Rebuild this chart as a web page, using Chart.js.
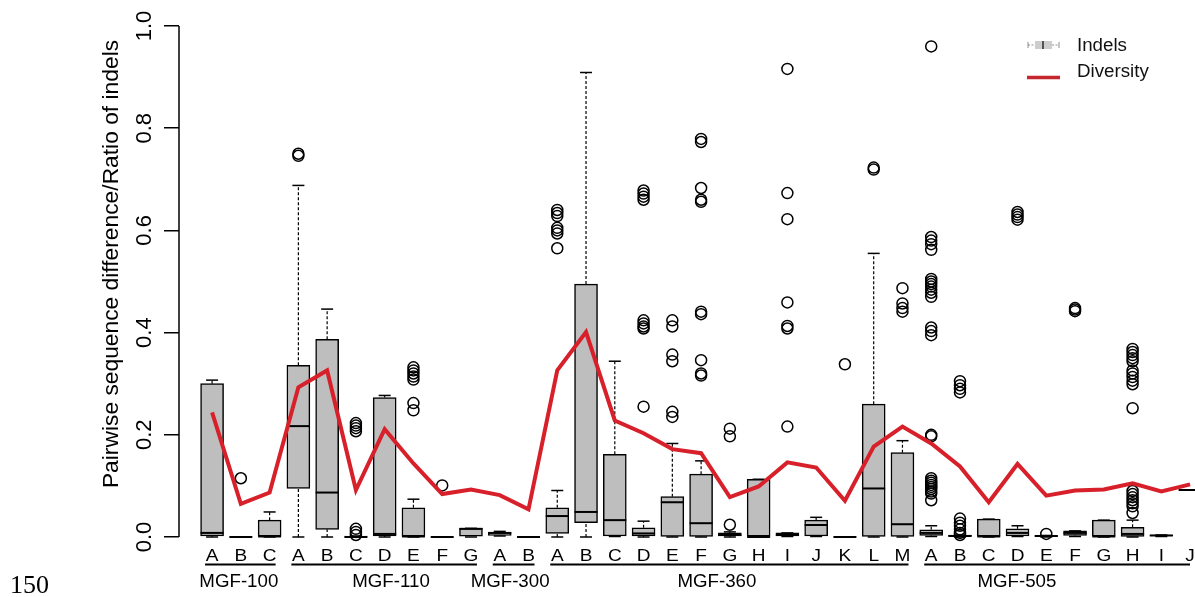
<!DOCTYPE html>
<html>
<head>
<meta charset="utf-8">
<title>Indels and diversity per MGF gene</title>
<script src="https://cdn.jsdelivr.net/npm/chart.js@4"></script>
<style>
  html, body { margin: 0; padding: 0; background: #fff; }
  #wrap { width: 1195px; height: 597px; position: relative; }
</style>
</head>
<body>
<div id="wrap"><canvas id="myChart"></canvas></div>
<script>
// gene families and their members
const groupNames = ["MGF-100", "MGF-110", "MGF-300", "MGF-360", "MGF-505"];
const groupSizes = [3, 7, 2, 13, 10];
const letters = [
  "A", "B", "C",
  "A", "B", "C", "D", "E", "F", "G",
  "A", "B",
  "A", "B", "C", "D", "E", "F", "G", "H", "I", "J", "K", "L", "M",
  "A", "B", "C", "D", "E", "F", "G", "H", "I", "J",
];

// box stats for indels (one entry per gene)
const whiskerLow = [0, 0, 0, 0, 0, 0, 0, 0, 0, 0, 0.002, 0, 0, 0, 0.001, 0, 0, 0, 0, 0, 0.001, 0.001, 0, 0, 0, 0.001, 0, 0, 0.001, 0, 0.001, 0, 0, 0.001, 0.092];
const q1 = [0.002, 0, 0, 0.095, 0.015, 0, 0.002, 0, 0, 0, 0.003, 0, 0.007, 0.028, 0.002, 0.002, 0.001, 0.001, 0.002, 0, 0.002, 0.002, 0, 0.001, 0.001, 0.003, 0.001, 0, 0.002, 0.001, 0.003, 0, 0.001, 0.002, 0.092];
const median = [0.008, 0, 0.001, 0.217, 0.087, 0, 0.006, 0.001, 0, 0.016, 0.008, 0, 0.041, 0.049, 0.033, 0.007, 0.068, 0.027, 0.004, 0, 0.004, 0.0235, 0, 0.095, 0.025, 0.008, 0.002, 0.001, 0.008, 0.002, 0.008, 0.001, 0.006, 0.003, 0.092];
const q3 = [0.300, 0, 0.033, 0.336, 0.387, 0.002, 0.273, 0.057, 0, 0.017, 0.009, 0, 0.057, 0.495, 0.162, 0.018, 0.079, 0.123, 0.008, 0.113, 0.008, 0.033, 0, 0.260, 0.165, 0.014, 0.004, 0.035, 0.016, 0.003, 0.012, 0.033, 0.019, 0.004, 0.092];
const whiskerHigh = [0.307, 0, 0.049, 0.688, 0.446, 0.002, 0.277, 0.074, 0, 0.017, 0.011, 0, 0.091, 0.909, 0.344, 0.031, 0.183, 0.149, 0.010, 0.113, 0.008, 0.0385, 0, 0.555, 0.1885, 0.022, 0.004, 0.035, 0.022, 0.003, 0.012, 0.033, 0.033, 0.004, 0.092];

const outliers = [
  [], [0.115], [],
  [0.750, 0.746], [], [0.223, 0.218, 0.213, 0.207, 0.016, 0.010, 0.004], [],
  [0.332, 0.326, 0.320, 0.314, 0.308, 0.262, 0.248], [0.101], [],
  [], [],
  [0.640, 0.634, 0.628, 0.605, 0.600, 0.594, 0.565], [], [],
  [0.678, 0.672, 0.666, 0.660, 0.424, 0.418, 0.412, 0.408, 0.255],
  [0.424, 0.412, 0.357, 0.344, 0.245, 0.235],
  [0.779, 0.773, 0.683, 0.660, 0.656, 0.441, 0.436, 0.346, 0.320, 0.316],
  [0.212, 0.197, 0.024], [],
  [0.916, 0.673, 0.622, 0.459, 0.413, 0.408, 0.216], [], [0.338],
  [0.723, 0.719], [0.487, 0.457, 0.448, 0.441],
  [0.960, 0.587, 0.580, 0.573, 0.562, 0.505, 0.500, 0.495, 0.490, 0.484, 0.478, 0.470, 0.410, 0.403, 0.395, 0.200, 0.197, 0.115, 0.110, 0.106, 0.102, 0.098, 0.094, 0.089, 0.085, 0.072],
  [0.305, 0.297, 0.290, 0.283, 0.036, 0.028, 0.022, 0.015, 0.008, 0.004],
  [], [0.636, 0.631, 0.626, 0.621], [0.006], [0.448, 0.445, 0.442], [],
  [0.368, 0.362, 0.356, 0.350, 0.344, 0.326, 0.320, 0.313, 0.306, 0.299, 0.252, 0.090, 0.084, 0.078, 0.072, 0.066, 0.060, 0.047],
  [], [],
];

// pairwise sequence difference (red line)
const diversity = [0.244, 0.065, 0.087, 0.293, 0.326, 0.092, 0.211, 0.144, 0.084, 0.093, 0.082, 0.054, 0.326, 0.401, 0.228, 0.203, 0.172, 0.164, 0.078, 0.099, 0.146, 0.136, 0.071, 0.177, 0.216, 0.183, 0.138, 0.068, 0.143, 0.081, 0.091, 0.093, 0.105, 0.089, 0.103];

const yTicks = [0, 0.2, 0.4, 0.6, 0.8, 1.0];

const RED = "#d8202a";
const FONT = "'Liberation Sans', Arial, Helvetica, sans-serif";

// build chart data
const positions = letters.map((_, i) => i + 1);
const boxData = positions.map((x, i) => ({ x: x, y: [q1[i], q3[i]] }));
const medData = positions.map((x, i) => ({ x: x, y: median[i] }));
const capData = [];
const stemData = [];
positions.forEach((x, i) => {
  capData.push({ x: x, y: whiskerLow[i] }, { x: x, y: whiskerHigh[i] });
  stemData.push({ x: x, y: q3[i] }, { x: x, y: whiskerHigh[i] }, { x: x, y: null });
  stemData.push({ x: x, y: whiskerLow[i] }, { x: x, y: q1[i] }, { x: x, y: null });
});
const outData = [];
outliers.forEach((arr, i) => arr.forEach((v) => outData.push({ x: i + 1, y: v })));
const divData = positions.map((x, i) => ({ x: x, y: diversity[i] }));

// where the family names sit (in gene units)
const groupLabelAt = [1.93, 7.22, 11.36, 18.55, 28.98];

function stretchText(ctx, txt, x, y, size, sx, align) {
  ctx.save();
  ctx.translate(x, y);
  ctx.scale(sx, 1);
  ctx.font = size + "px " + FONT;
  ctx.textAlign = align || "center";
  ctx.textBaseline = "alphabetic";
  ctx.fillText(txt, 0, 0);
  ctx.restore();
}

const decorations = {
  id: "decorations",
  afterDraw(chart) {
    const ctx = chart.ctx;
    const xs = chart.scales.x;
    const ys = chart.scales.y;
    const left = chart.chartArea.left;
    ctx.save();
    ctx.fillStyle = "#000";
    ctx.strokeStyle = "#000";

    //y axis line, only 0..1
    ctx.lineWidth = 1.5;
    ctx.beginPath();
    ctx.moveTo(left, ys.getPixelForValue(0));
    ctx.lineTo(left, ys.getPixelForValue(1));
    ctx.stroke();

    //y tick labels (rotated)
    yTicks.forEach((v) => {
      ctx.save();
      ctx.translate(151, ys.getPixelForValue(v));
      ctx.rotate(-Math.PI / 2);
      ctx.font = "22px " + FONT;
      ctx.textAlign = "center";
      ctx.textBaseline = "alphabetic";
      ctx.fillText(v.toFixed(1), 0, 0);
      ctx.restore();
    });

    //y title
    ctx.save();
    ctx.translate(118, 264);
    ctx.rotate(-Math.PI / 2);
    ctx.font = "22.8px " + FONT;
    ctx.textAlign = "center";
    ctx.fillText("Pairwise sequence difference/Ratio of indels", 0, 0);
    ctx.restore();

    //gene letters
    letters.forEach((l, i) => {
      stretchText(ctx, l, xs.getPixelForValue(i + 1), 561, 16.3, 1.17);
    });

    //families: underline + name
    let start = 1;
    groupNames.forEach((name, g) => {
      const end = start + groupSizes[g] - 1;
      ctx.lineWidth = 2;
      ctx.beginPath();
      ctx.moveTo(xs.getPixelForValue(start) - 7, 564.5);
      ctx.lineTo(Math.min(xs.getPixelForValue(end) + 6, 1190), 564.5);
      ctx.stroke();
      stretchText(ctx, name, xs.getPixelForValue(groupLabelAt[g]), 586.5, 18.7, 1);
      start = end + 1;
    });

    //page number
    ctx.font = "26px 'Liberation Serif', 'Times New Roman', serif";
    ctx.textAlign = "left";
    ctx.fillText("150", 10, 593);

    //legend
    ctx.strokeStyle = "#8c8c8c";
    ctx.lineWidth = 1;
    ctx.setLineDash([2, 1.5]);
    ctx.beginPath();
    ctx.moveTo(1028, 45); ctx.lineTo(1035, 45);
    ctx.moveTo(1052, 45); ctx.lineTo(1059, 45);
    ctx.stroke();
    ctx.setLineDash([]);
    ctx.beginPath();
    ctx.moveTo(1028, 42); ctx.lineTo(1028, 48);
    ctx.moveTo(1059, 42); ctx.lineTo(1059, 48);
    ctx.stroke();
    ctx.fillStyle = "#cdcdcd";
    ctx.fillRect(1035, 41, 17, 8);
    ctx.strokeStyle = "#555";
    ctx.lineWidth = 2;
    ctx.beginPath();
    ctx.moveTo(1043, 41); ctx.lineTo(1043, 49);
    ctx.stroke();
    ctx.strokeStyle = "#c6262e";
    ctx.lineWidth = 3.5;
    ctx.beginPath();
    ctx.moveTo(1027, 77.5); ctx.lineTo(1060, 77.5);
    ctx.stroke();
    ctx.fillStyle = "#111";
    stretchText(ctx, "Indels", 1077, 51, 17.5, 1.07, "left");
    stretchText(ctx, "Diversity", 1077, 77, 17.5, 1.07, "left");

    ctx.restore();
  },
};

const ctx = document.getElementById("myChart");

const myChart = new Chart(ctx, {
  type: "bar",
  data: {
    datasets: [
      {
        type: "line",
        label: "Diversity",
        data: divData,
        borderColor: RED,
        borderWidth: 4,
        pointRadius: 0,
        tension: 0,
        clip: false,
      },
      {
        type: "scatter",
        label: "outliers",
        data: outData,
        pointStyle: "circle",
        pointRadius: 5.5,
        pointBorderWidth: 1.5,
        pointBorderColor: "#000",
        pointBackgroundColor: "rgba(0,0,0,0)",
        clip: false,
      },
      {
        type: "scatter",
        label: "caps",
        data: capData,
        pointStyle: "line",
        pointRadius: 6,
        pointBorderWidth: 1.5,
        pointBorderColor: "#000",
        clip: false,
      },
      {
        type: "scatter",
        label: "medians",
        data: medData,
        pointStyle: "line",
        pointRadius: 11.5,
        pointBorderWidth: 2,
        pointBorderColor: "#000",
        clip: false,
      },
      {
        type: "bar",
        label: "Indels",
        data: boxData,
        backgroundColor: "#bebebe",
        borderColor: "#000",
        borderWidth: 1.5,
        borderSkipped: false,
        barThickness: 23,
        clip: false,
      },
      {
        type: "line",
        label: "whiskers",
        data: stemData,
        borderColor: "#000",
        borderWidth: 1.2,
        borderDash: [3, 2],
        pointRadius: 0,
        spanGaps: false,
        clip: false,
      },
    ],
  },
  options: {
    responsive: true,
    maintainAspectRatio: false,
    devicePixelRatio: 1,
    animation: false,
    events: [],
    layout: { autoPadding: false, padding: { top: 6, bottom: 40, left: 0, right: 0 } },
    plugins: {
      legend: { display: false },
      tooltip: { enabled: false },
    },
    scales: {
      x: {
        type: "linear",
        min: -0.15,
        max: 35.17,
        offset: false,
        display: false,
      },
      y: {
        type: "linear",
        min: -20 / 511,
        max: 1 + 20 / 511,
        afterFit: (scale) => {
          scale.width = 179;
        },
        afterBuildTicks: (scale) => {
          scale.ticks = yTicks.map((v) => ({ value: v }));
        },
        ticks: { display: false },
        grid: {
          display: true,
          drawOnChartArea: false,
          drawTicks: true,
          tickLength: 15,
          color: "#000",
          lineWidth: 1.5,
        },
        border: { display: false },
      },
    },
  },
  plugins: [decorations],
});
</script>
</body>
</html>
